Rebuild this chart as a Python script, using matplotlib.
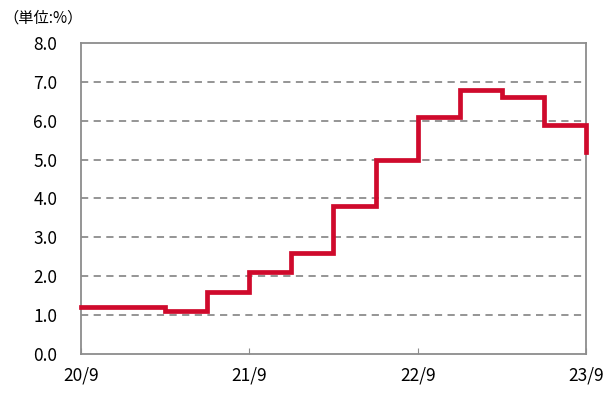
import numpy as np
import matplotlib
matplotlib.use('Agg')
import matplotlib.pyplot as plt

plt.rcParams['font.family'] = ['Noto Sans CJK JP', 'DejaVu Sans']

# quarterly values from 20/9, last point is the value at 23/9
months = [0, 3, 6, 9, 12, 15, 18, 21, 24, 27, 30, 33, 36]
rate = [1.2, 1.2, 1.1, 1.6, 2.1, 2.6, 3.8, 5.0, 6.1, 6.8, 6.6, 5.9, 5.2]
xtick_pos = [0, 12, 24, 36]
xtick_labels = ['20/9', '21/9', '22/9', '23/9']
yticks = np.arange(0, 8.1, 1.0)

fig = plt.figure(figsize=(6.07, 3.98), dpi=100)
ax = fig.add_axes([0.1334, 0.1106, 0.832, 0.7814])

ax.step(months, rate, where='post', color='#CF0A2C', linewidth=3.4,
        solid_joinstyle='miter', clip_on=False, zorder=3)

ax.set_xlim(0, 36)
ax.set_ylim(0, 8)
ax.set_yticks(yticks)
ax.set_yticklabels([f'{v:.1f}' for v in yticks])
ax.set_xticks(xtick_pos)
ax.set_xticklabels(xtick_labels)

for v in yticks[1:-1]:
    ax.axhline(v, color='#8c8c8c', linewidth=1.3, linestyle=(0, (4, 3)), zorder=1)

for s in ax.spines.values():
    s.set_color('#8c8c8c')
    s.set_linewidth(1.3)

ax.tick_params(axis='y', length=0, pad=17, labelsize=12.5, colors='black')
ax.tick_params(axis='x', direction='in', length=4, color='#8c8c8c', pad=9,
               labelsize=12.5)

fig.text(0.005, 0.975, '（単位:%）', fontsize=11, ha='left', va='top')

fig.savefig('out.png', dpi=100)
